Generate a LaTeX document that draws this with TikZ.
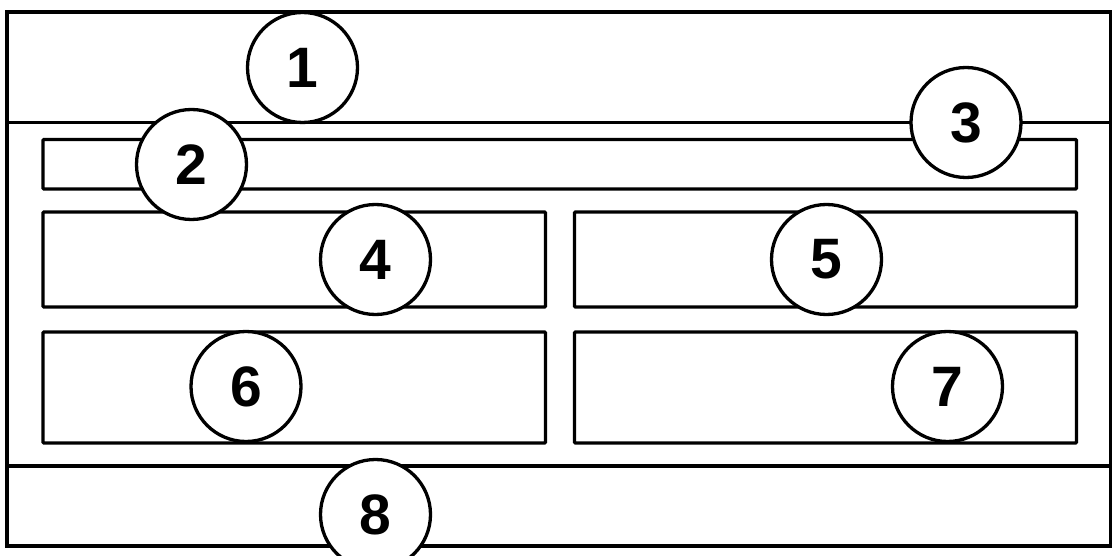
\documentclass[tikz,border=0pt]{standalone}
\usepackage{fontspec}
\setmainfont{Liberation Sans}
\begin{document}
\begin{tikzpicture}[x=1pt,y=-1pt,
  frame/.style={draw=black,line width=3.3pt},
  panel/.style={draw=black,line width=3.3pt,rounded corners=1pt},
  num/.style={circle,draw=black,fill=white,line width=3.3pt,minimum size=110pt,inner sep=0pt,font=\fontsize{57}{60}\selectfont\bfseries}]
\useasboundingbox (0,0) rectangle (1112,556);
\draw[frame] (7,12) -- (1112,12);
\draw[frame] (7,10.35) -- (7,546) -- (1112,546);
\draw[frame] (1110.5,12) -- (1110.5,546);
\draw[frame] (7,122.5) -- (1112,122.5);
\draw[frame] (7,466) -- (1112,466);
\draw[panel] (43,139.5) rectangle (1076.5,189);
\draw[panel] (43,212) rectangle (545.5,307);
\draw[panel] (574.5,212) rectangle (1076.5,307);
\draw[panel] (43,332) rectangle (545.5,443);
\draw[panel] (574.5,332) rectangle (1076.5,443);
\node[num] (n1) at (302.5,67.5) {1};
\node[num] (n2) at (191.5,164.5) {2};
\node[num] (n3) at (966,122.5) {3};
\node[num] (n4) at (375.5,259.5) {4};
\node[num] (n5) at (826.5,259.5) {5};
\node[num] (n6) at (246,386.5) {6};
\node[num] (n7) at (947.5,386.5) {7};
\node[num] (n8) at (375.5,514.5) {8};
\end{tikzpicture}
\end{document}
